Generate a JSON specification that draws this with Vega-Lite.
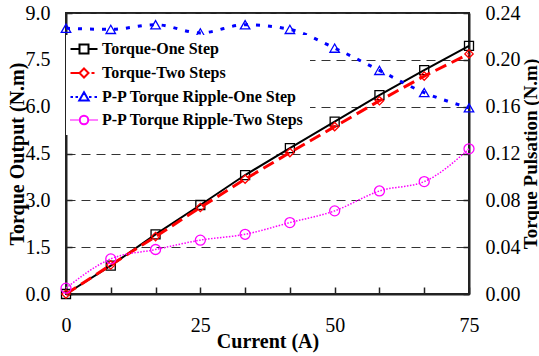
{
  "$schema": "https://vega.github.io/schema/vega-lite/v6.json",
  "width": 403,
  "height": 281,
  "autosize": "none",
  "padding": {"left": 66, "top": 13, "right": 70, "bottom": 62},
  "background": "white",
  "config": {
    "font": "Liberation Serif",
    "view": {"stroke": "#222", "strokeWidth": 2},
    "axis": {
      "labelFont": "Liberation Serif",
      "labelFontSize": 20,
      "labelColor": "black",
      "titleFont": "Liberation Serif",
      "titleFontSize": 20,
      "titleFontWeight": "bold",
      "titleColor": "black",
      "domainColor": "#222",
      "domainWidth": 2,
      "tickColor": "#222",
      "tickWidth": 1.5
    },
    "legend": {
      "orient": "none",
      "legendX": 0,
      "legendY": 22,
      "padding": 6,
      "fillColor": "white",
      "labelFont": "Liberation Serif",
      "labelFontWeight": "bold",
      "labelFontSize": 16,
      "labelColor": "black",
      "rowPadding": 6,
      "symbolSize": 100,
      "symbolStrokeWidth": 2,
      "symbolOffset": 4,
      "labelOffset": 10,
      "labelLimit": 400
    }
  },
  "data": {
    "values": [
      {"current": 0, "series": "Torque-One Step", "value": 0.0},
      {"current": 8.333, "series": "Torque-One Step", "value": 0.91},
      {"current": 16.667, "series": "Torque-One Step", "value": 1.91},
      {"current": 25, "series": "Torque-One Step", "value": 2.85},
      {"current": 33.333, "series": "Torque-One Step", "value": 3.81},
      {"current": 41.667, "series": "Torque-One Step", "value": 4.67},
      {"current": 50, "series": "Torque-One Step", "value": 5.52},
      {"current": 58.333, "series": "Torque-One Step", "value": 6.37},
      {"current": 66.667, "series": "Torque-One Step", "value": 7.17},
      {"current": 75, "series": "Torque-One Step", "value": 7.95},
      {"current": 0, "series": "Torque-Two Steps", "value": 0.0},
      {"current": 8.333, "series": "Torque-Two Steps", "value": 0.93},
      {"current": 16.667, "series": "Torque-Two Steps", "value": 1.84},
      {"current": 25, "series": "Torque-Two Steps", "value": 2.77},
      {"current": 33.333, "series": "Torque-Two Steps", "value": 3.68},
      {"current": 41.667, "series": "Torque-Two Steps", "value": 4.53},
      {"current": 50, "series": "Torque-Two Steps", "value": 5.36},
      {"current": 58.333, "series": "Torque-Two Steps", "value": 6.19},
      {"current": 66.667, "series": "Torque-Two Steps", "value": 6.98},
      {"current": 75, "series": "Torque-Two Steps", "value": 7.69},
      {"current": 0, "series": "P-P Torque Ripple-One Step", "value": 0.227},
      {"current": 8.333, "series": "P-P Torque Ripple-One Step", "value": 0.226},
      {"current": 16.667, "series": "P-P Torque Ripple-One Step", "value": 0.230},
      {"current": 25, "series": "P-P Torque Ripple-One Step", "value": 0.223},
      {"current": 33.333, "series": "P-P Torque Ripple-One Step", "value": 0.230},
      {"current": 41.667, "series": "P-P Torque Ripple-One Step", "value": 0.226},
      {"current": 50, "series": "P-P Torque Ripple-One Step", "value": 0.210},
      {"current": 58.333, "series": "P-P Torque Ripple-One Step", "value": 0.191},
      {"current": 66.667, "series": "P-P Torque Ripple-One Step", "value": 0.172},
      {"current": 75, "series": "P-P Torque Ripple-One Step", "value": 0.159},
      {"current": 0, "series": "P-P Torque Ripple-Two Steps", "value": 0.005},
      {"current": 8.333, "series": "P-P Torque Ripple-Two Steps", "value": 0.030},
      {"current": 16.667, "series": "P-P Torque Ripple-Two Steps", "value": 0.038},
      {"current": 25, "series": "P-P Torque Ripple-Two Steps", "value": 0.046},
      {"current": 33.333, "series": "P-P Torque Ripple-Two Steps", "value": 0.051},
      {"current": 41.667, "series": "P-P Torque Ripple-Two Steps", "value": 0.061},
      {"current": 50, "series": "P-P Torque Ripple-Two Steps", "value": 0.071},
      {"current": 58.333, "series": "P-P Torque Ripple-Two Steps", "value": 0.088},
      {"current": 66.667, "series": "P-P Torque Ripple-Two Steps", "value": 0.096},
      {"current": 75, "series": "P-P Torque Ripple-Two Steps", "value": 0.124}
    ]
  },
  "encoding": {
    "x": {
      "field": "current",
      "type": "quantitative",
      "scale": {"domain": [0, 75], "nice": false, "zero": true},
      "axis": {
        "title": "Current (A)",
        "values": [0, 8.333, 16.667, 25, 33.333, 41.667, 50, 58.333, 66.667, 75],
        "labelExpr": "indexof([0,25,50,75], datum.value) >= 0 ? datum.label : ''",
        "format": "d",
        "labelFont": "Liberation Serif",
        "labelOverlap": false,
        "labelFlush": false,
        "grid": false,
        "tickSize": -7,
        "labelPadding": 28,
        "titlePadding": -4
      }
    }
  },
  "layer": [
    {
      "encoding": {
        "y": {
          "field": "value",
          "type": "quantitative",
          "scale": {"domain": [0, 9], "nice": false},
          "axis": {
            "orient": "left",
            "title": "Torque Output (N.m)",
            "values": [0, 1.5, 3, 4.5, 6, 7.5, 9],
            "format": ".1f",
            "labelFont": "Liberation Serif",
            "grid": true,
            "gridDash": [9, 6],
            "gridColor": "#333",
            "gridWidth": 1,
            "tickSize": -6,
            "labelPadding": 22,
            "titlePadding": -2
          }
        }
      },
      "layer": [
        {
          "transform": [{"filter": {"field": "series", "equal": "Torque-One Step"}}],
          "mark": {"type": "line", "color": "#000000", "strokeWidth": 2}
        },
        {
          "transform": [{"filter": {"field": "series", "equal": "Torque-One Step"}}],
          "mark": {"type": "point", "shape": "square", "size": 81, "filled": false, "color": "#000000", "strokeWidth": 1.3, "opacity": 1}
        },
        {
          "transform": [{"filter": {"field": "series", "equal": "Torque-Two Steps"}}],
          "mark": {"type": "line", "color": "#ff0000", "strokeWidth": 3, "strokeDash": [12, 6]}
        },
        {
          "transform": [{"filter": {"field": "series", "equal": "Torque-Two Steps"}}],
          "mark": {"type": "point", "shape": "diamond", "size": 70, "filled": false, "color": "#ff0000", "strokeWidth": 1.3, "opacity": 1}
        }
      ]
    },
    {
      "encoding": {
        "y": {
          "field": "value",
          "type": "quantitative",
          "scale": {"domain": [0, 0.24], "nice": false},
          "axis": {
            "orient": "right",
            "title": "Torque Pulsation (N.m)",
            "titleFontSize": 19,
            "titleAngle": 270,
            "values": [0, 0.04, 0.08, 0.12, 0.16, 0.2, 0.24],
            "format": ".2f",
            "labelFont": "Liberation Serif",
            "grid": false,
            "tickSize": -6,
            "labelPadding": 22,
            "titlePadding": 20
          }
        }
      },
      "layer": [
        {
          "transform": [{"filter": {"field": "series", "equal": "P-P Torque Ripple-One Step"}}],
          "mark": {"type": "line", "color": "#0000ff", "strokeWidth": 3, "strokeDash": [4, 8], "interpolate": "monotone"}
        },
        {
          "transform": [{"filter": {"field": "series", "equal": "P-P Torque Ripple-One Step"}}],
          "mark": {"type": "point", "shape": "triangle-up", "size": 90, "filled": false, "color": "#0000ff", "strokeWidth": 1.3, "opacity": 1}
        },
        {
          "transform": [{"filter": {"field": "series", "equal": "P-P Torque Ripple-Two Steps"}}],
          "mark": {"type": "line", "color": "#ff00ff", "strokeWidth": 1.5, "strokeDash": [1.5, 1.5], "interpolate": "monotone"}
        },
        {
          "transform": [{"filter": {"field": "series", "equal": "P-P Torque Ripple-Two Steps"}}],
          "mark": {"type": "point", "shape": "circle", "size": 100, "filled": false, "color": "#ff00ff", "strokeWidth": 1.3, "opacity": 1}
        }
      ]
    },
    {
      "transform": [{"filter": "false"}],
      "mark": {"type": "point", "filled": false, "strokeWidth": 2, "opacity": 1},
      "encoding": {
        "shape": {
          "field": "series",
          "type": "nominal",
          "scale": {
            "domain": ["Torque-One Step", "Torque-Two Steps", "P-P Torque Ripple-One Step", "P-P Torque Ripple-Two Steps"],
            "range": [
              "M-2.7,0H-0.9M0.9,0H2.7M-0.9,-0.9H0.9V0.9H-0.9Z",
              "M-2.7,0H-0.95M1.5,0H2.1M0,-0.9L0.9,0L0,0.9L-0.9,0Z",
              "M-2.7,0H-2.2M-1.7,0H-1.2M1.0,0H1.5M2.1,0H2.6M0,-0.95L0.95,0.7H-0.95Z",
              "M-2.7,0H-2.5M-2.3,0H-2.1M-1.9,0H-1.7M-1.5,0H-1.3M-1.1,0H-0.95M0.95,0H1.1M1.3,0H1.5M1.7,0H1.9M2.1,0H2.3M2.5,0H2.7M0.85,0A0.85,0.85 0 1,1 -0.85,0A0.85,0.85 0 1,1 0.85,0"
            ]
          },
          "legend": {"title": null}
        },
        "color": {
          "field": "series",
          "type": "nominal",
          "scale": {
            "domain": ["Torque-One Step", "Torque-Two Steps", "P-P Torque Ripple-One Step", "P-P Torque Ripple-Two Steps"],
            "range": ["#000000", "#ff0000", "#0000ff", "#ff00ff"]
          },
          "legend": {"title": null}
        }
      }
    }
  ],
  "resolve": {"scale": {"y": "independent"}}
}
